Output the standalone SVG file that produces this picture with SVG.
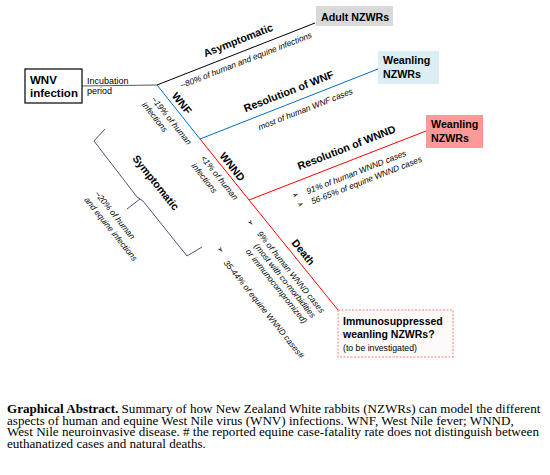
<svg xmlns="http://www.w3.org/2000/svg" width="550" height="475" viewBox="0 0 550 475">
<style>
text{font-family:"Liberation Sans",Arial,sans-serif;fill:#000}
.b{font-weight:bold;font-size:10.7px}
.i{font-style:italic;font-size:8.4px}
.r{font-size:9px}
.m{text-anchor:middle;dominant-baseline:central}
.bu{font-family:"DejaVu Sans",sans-serif;font-size:8px}
.cap{font-family:"Liberation Serif","Times New Roman",serif;font-size:13.1px}
</style>
<rect width="550" height="475" fill="#fff"/>
<g id="connectors" fill="none" stroke-width="1">
<path d="M82,86 L157,85" stroke="#595959"/>
<path d="M157,85 L315,23" stroke="#000"/>
<path d="M157,85 L200,139 L378,69" stroke="#0070c0"/>
<path d="M200,139 L249,200 L426,131" stroke="#ff0000"/>
<path d="M249,200 L338,310" stroke="#ff0000"/>
</g>
<g id="bracket" fill="none" stroke="#604a7b" stroke-width="1">
<path d="M105,129 L94,141 L137,197 L140,199 L127,209 M140,199 L143,201 L187,256 L202,247"/>
</g>
<g id="wnv">
<rect x="25" y="69" width="57" height="34" fill="#fff" stroke="#000" stroke-width="1.2"/>
<text class="b" x="30" y="84" style="font-size:11.5px">WNV</text>
<text class="b" x="30" y="97" style="font-size:11.5px">infection</text>
</g>
<g id="incubation">
<text class="r" x="87" y="84">Incubation</text>
<text class="r" x="87" y="94">period</text>
</g>
<g id="adult">
<rect x="316" y="6" width="77" height="20" fill="#d9d9d9"/>
<text class="b" x="321" y="20.5">Adult NZWRs</text>
</g>
<g id="weanling-blue">
<rect x="378" y="51" width="61" height="33" fill="#daeef3"/>
<text class="b" x="383" y="64">Weanling</text>
<text class="b" x="383" y="78">NZWRs</text>
</g>
<g id="weanling-red">
<rect x="426" y="115" width="57" height="33" fill="#ff9999"/>
<text class="b" x="431" y="128">Weanling</text>
<text class="b" x="431" y="142">NZWRs</text>
</g>
<g id="immuno">
<rect x="338" y="310" width="115" height="47" fill="#fffafa" stroke="#ff7f7f" stroke-width="1" stroke-dasharray="2,1.5"/>
<text class="b" x="343" y="325" style="font-size:10.5px">Immunosuppressed</text>
<text class="b" x="343" y="338" style="font-size:10.5px">weanling NZWRs?</text>
<text class="r" x="343" y="351" style="font-size:8.7px">(to be investigated)</text>
</g>
<g id="labels-up">
<text class="b m" transform="translate(238,40) rotate(-21.4)">Asymptomatic</text>
<text class="i m" transform="translate(246,60) rotate(-21.4)">~80% of human and equine infections</text>
<text class="b m" transform="translate(288.5,91) rotate(-21.4)">Resolution of WNF</text>
<text class="i m" transform="translate(305.4,109) rotate(-21.4)">most of human WNF cases</text>
<text class="b m" transform="translate(346.4,147.3) rotate(-21.4)">Resolution of WNND</text>
<text class="i m" transform="translate(356.3,172) rotate(-21.4)">91% of human WNND cases</text>
<text class="i m" transform="translate(366.4,180) rotate(-21.4)">56-65% of equine WNND cases</text>
<text class="bu m" transform="translate(295.5,195) rotate(-21.4)">➢</text>
<text class="bu m" transform="translate(300.5,204.5) rotate(-21.4)">➢</text>
</g>
<g id="labels-down">
<text class="b m" transform="translate(182,103) rotate(51.3)">WNF</text>
<text class="i m" transform="translate(171.5,120.5) rotate(51.3)">~19% of human</text>
<text class="i m" transform="translate(155,117) rotate(51.3)">infections</text>
<text class="b m" transform="translate(232.5,166.5) rotate(51.3)">WNND</text>
<text class="i m" transform="translate(219.5,177.5) rotate(51.3)">&lt;1% of human</text>
<text class="i m" transform="translate(204.5,178) rotate(51.3)">infections</text>
<text class="b m" transform="translate(303.5,252) rotate(51.3)">Death</text>
<text class="i m" transform="translate(291,272) rotate(51.3)">9% of human WNND cases</text>
<text class="i m" transform="translate(285.1,280.6) rotate(51.3)">(most with co-morbidities</text>
<text class="i m" transform="translate(276.6,286.1) rotate(51.3)">or immunocompromized)</text>
<text class="i m" transform="translate(264,309) rotate(51.3)">35-44% of equine WNND cases#</text>
<text class="bu m" transform="translate(250.5,222.5) rotate(51.3)">➢</text>
<text class="bu m" transform="translate(220.5,249.5) rotate(51.3)">➢</text>
<text class="b m" transform="translate(156,182.5) rotate(51.3)">Symptomatic</text>
<text class="i m" transform="translate(115,215) rotate(51.3)">~20% of human</text>
<text class="i m" transform="translate(111,229) rotate(51.3)">and equine infections</text>
</g>
<g id="caption">
<text class="cap" x="7" y="413"><tspan font-weight="bold">Graphical Abstract.</tspan> Summary of how New Zealand White rabbits (NZWRs) can model the different</text>
<text class="cap" x="7" y="424.7">aspects of human and equine West Nile virus (WNV) infections.  WNF, West Nile fever; WNND,</text>
<text class="cap" x="7" y="436.4">West Nile neuroinvasive disease.  # the reported equine case-fatality rate does not distinguish between</text>
<text class="cap" x="7" y="448.1">euthanatized cases and natural deaths.</text>
</g>
</svg>
